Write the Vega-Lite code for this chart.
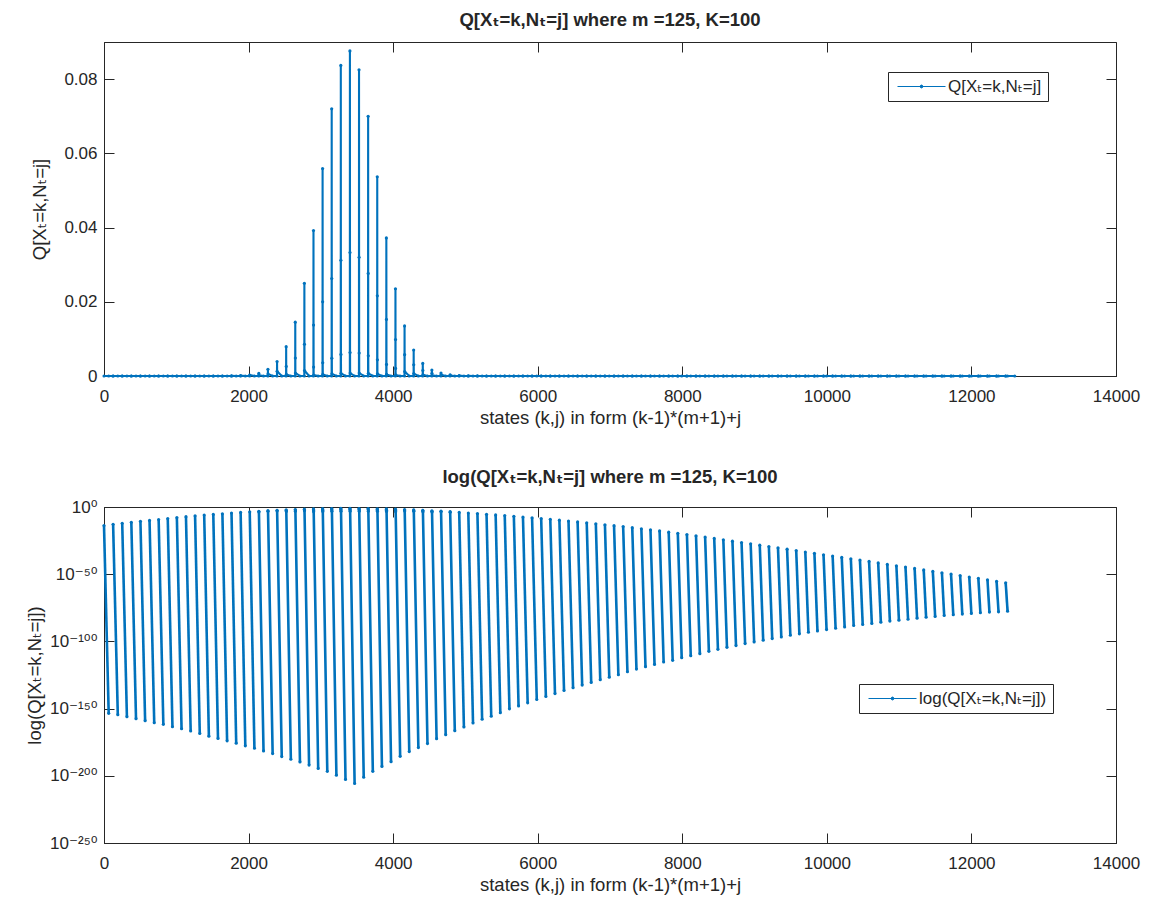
{
  "$schema": "https://vega.github.io/schema/vega-lite/v6.json",
  "background": "white",
  "padding": {"top": 10, "left": 25, "right": 10, "bottom": 5},
  "data": {
    "values": [
      {"k":1,"x":0,"q":1.58e-14},{"k":1,"x":65,"q":3.16e-154},{"k":1,"x":125,"q":0},
      {"k":2,"x":126,"q":1.26e-13},{"k":2,"x":191,"q":3.16e-155},{"k":2,"x":251,"q":0},
      {"k":3,"x":252,"q":7.94e-13},{"k":3,"x":317,"q":1e-156},{"k":3,"x":377,"q":0},
      {"k":4,"x":378,"q":3.98e-12},{"k":4,"x":443,"q":3.16e-158},{"k":4,"x":503,"q":0},
      {"k":5,"x":504,"q":2.51e-11},{"k":5,"x":569,"q":1e-159},{"k":5,"x":629,"q":0},
      {"k":6,"x":630,"q":1e-10},{"k":6,"x":695,"q":3.16e-161},{"k":6,"x":755,"q":0},
      {"k":7,"x":756,"q":5.01e-10},{"k":7,"x":821,"q":2e-162},{"k":7,"x":881,"q":0},
      {"k":8,"x":882,"q":2.51e-9},{"k":8,"x":947,"q":3.16e-164},{"k":8,"x":1007,"q":0},
      {"k":9,"x":1008,"q":1.26e-8},{"k":9,"x":1073,"q":1e-165},{"k":9,"x":1133,"q":0},
      {"k":10,"x":1134,"q":6.31e-8},{"k":10,"x":1199,"q":2e-167},{"k":10,"x":1259,"q":0},
      {"k":11,"x":1260,"q":2.51e-7},{"k":11,"x":1325,"q":3.16e-169},{"k":11,"x":1385,"q":0},
      {"k":12,"x":1386,"q":1e-6},{"k":12,"x":1451,"q":3.16e-171},{"k":12,"x":1511,"q":0},
      {"k":13,"x":1512,"q":3.16e-6},{"k":13,"x":1577,"q":6.31e-173},{"k":13,"x":1637,"q":0},
      {"k":14,"x":1638,"q":1e-5},{"k":14,"x":1703,"q":1e-174},{"k":14,"x":1763,"q":0},
      {"k":15,"x":1764,"q":3.16e-5},{"k":15,"x":1829,"q":2e-176},{"k":15,"x":1889,"q":0},
      {"k":16,"x":1890,"q":1e-4},{"k":16,"x":1955,"q":2e-178},{"k":16,"x":2015,"q":0},
      {"k":17,"x":2016,"q":2.8e-4},{"k":17,"x":2081,"q":3.16e-180},{"k":17,"x":2141,"q":0},
      {"k":18,"x":2142,"q":7e-4},{"k":18,"x":2143,"q":2.14e-4},{"k":18,"x":2207,"q":3.16e-182},{"k":18,"x":2267,"q":0},
      {"k":19,"x":2268,"q":0.0018},{"k":19,"x":2269,"q":5.63e-4},{"k":19,"x":2333,"q":3.16e-184},{"k":19,"x":2393,"q":0},
      {"k":20,"x":2394,"q":0.0039},{"k":20,"x":2395,"q":0.00125},{"k":20,"x":2459,"q":2e-186},{"k":20,"x":2519,"q":0},
      {"k":21,"x":2520,"q":0.0079},{"k":21,"x":2521,"q":0.00259},{"k":21,"x":2522,"q":4.24e-4},{"k":21,"x":2585,"q":2e-188},{"k":21,"x":2645,"q":0},
      {"k":22,"x":2646,"q":0.0145},{"k":22,"x":2647,"q":0.00486},{"k":22,"x":2648,"q":8.14e-4},{"k":22,"x":2711,"q":2e-190},{"k":22,"x":2771,"q":0},
      {"k":23,"x":2772,"q":0.025},{"k":23,"x":2773,"q":0.00856},{"k":23,"x":2774,"q":0.00147},{"k":23,"x":2837,"q":1e-192},{"k":23,"x":2897,"q":0},
      {"k":24,"x":2898,"q":0.0392},{"k":24,"x":2899,"q":0.01372},{"k":24,"x":2900,"q":0.0024},{"k":24,"x":2901,"q":2.8e-4},{"k":24,"x":2963,"q":3.16e-195},{"k":24,"x":3023,"q":0},
      {"k":25,"x":3024,"q":0.0559},{"k":25,"x":3025,"q":0.01998},{"k":25,"x":3026,"q":0.00357},{"k":25,"x":3027,"q":4.25e-4},{"k":25,"x":3089,"q":2e-197},{"k":25,"x":3149,"q":0},
      {"k":26,"x":3150,"q":0.072},{"k":26,"x":3151,"q":0.02628},{"k":26,"x":3152,"q":0.0048},{"k":26,"x":3153,"q":5.84e-4},{"k":26,"x":3215,"q":3.16e-200},{"k":26,"x":3275,"q":0},
      {"k":27,"x":3276,"q":0.0837},{"k":27,"x":3277,"q":0.03118},{"k":27,"x":3278,"q":0.00581},{"k":27,"x":3279,"q":7.22e-4},{"k":27,"x":3341,"q":2e-203},{"k":27,"x":3401,"q":0},
      {"k":28,"x":3402,"q":0.0876},{"k":28,"x":3403,"q":0.03329},{"k":28,"x":3404,"q":0.00632},{"k":28,"x":3405,"q":8.01e-4},{"k":28,"x":3467,"q":2e-206},{"k":28,"x":3527,"q":0},
      {"k":29,"x":3528,"q":0.0825},{"k":29,"x":3529,"q":0.03197},{"k":29,"x":3530,"q":0.00619},{"k":29,"x":3531,"q":8e-4},{"k":29,"x":3593,"q":1e-201},{"k":29,"x":3653,"q":0},
      {"k":30,"x":3654,"q":0.07},{"k":30,"x":3655,"q":0.02765},{"k":30,"x":3656,"q":0.00546},{"k":30,"x":3657,"q":7.19e-4},{"k":30,"x":3719,"q":2e-197},{"k":30,"x":3779,"q":0},
      {"k":31,"x":3780,"q":0.0537},{"k":31,"x":3781,"q":0.02161},{"k":31,"x":3782,"q":0.00435},{"k":31,"x":3783,"q":5.84e-4},{"k":31,"x":3845,"q":1e-193},{"k":31,"x":3905,"q":0},
      {"k":32,"x":3906,"q":0.0372},{"k":32,"x":3907,"q":0.01525},{"k":32,"x":3908,"q":0.00313},{"k":32,"x":3909,"q":4.28e-4},{"k":32,"x":3971,"q":3.16e-190},{"k":32,"x":4031,"q":0},
      {"k":33,"x":4032,"q":0.0235},{"k":33,"x":4033,"q":0.00981},{"k":33,"x":4034,"q":0.00205},{"k":33,"x":4035,"q":2.85e-4},{"k":33,"x":4097,"q":3.16e-186},{"k":33,"x":4157,"q":0},
      {"k":34,"x":4158,"q":0.0135},{"k":34,"x":4159,"q":0.00574},{"k":34,"x":4160,"q":0.00122},{"k":34,"x":4223,"q":1e-182},{"k":34,"x":4283,"q":0},
      {"k":35,"x":4284,"q":0.007},{"k":35,"x":4285,"q":0.00303},{"k":35,"x":4286,"q":6.55e-4},{"k":35,"x":4349,"q":1e-179},{"k":35,"x":4409,"q":0},
      {"k":36,"x":4410,"q":0.0034},{"k":36,"x":4411,"q":0.0015},{"k":36,"x":4412,"q":3.29e-4},{"k":36,"x":4475,"q":1e-176},{"k":36,"x":4535,"q":0},
      {"k":37,"x":4536,"q":0.0016},{"k":37,"x":4537,"q":7.16e-4},{"k":37,"x":4538,"q":1.6e-4},{"k":37,"x":4601,"q":3.98e-173},{"k":37,"x":4661,"q":0},
      {"k":38,"x":4662,"q":8e-4},{"k":38,"x":4663,"q":3.64e-4},{"k":38,"x":4727,"q":3.98e-170},{"k":38,"x":4787,"q":0},
      {"k":39,"x":4788,"q":3.2e-4},{"k":39,"x":4789,"q":1.48e-4},{"k":39,"x":4853,"q":3.98e-167},{"k":39,"x":4913,"q":0},
      {"k":40,"x":4914,"q":1e-4},{"k":40,"x":4979,"q":2e-164},{"k":40,"x":5039,"q":0},
      {"k":41,"x":5040,"q":3.16e-5},{"k":41,"x":5105,"q":2e-161},{"k":41,"x":5165,"q":0},
      {"k":42,"x":5166,"q":1.26e-5},{"k":42,"x":5231,"q":1.26e-158},{"k":42,"x":5291,"q":0},
      {"k":43,"x":5292,"q":3.98e-6},{"k":43,"x":5357,"q":2e-156},{"k":43,"x":5417,"q":0},
      {"k":44,"x":5418,"q":1.26e-6},{"k":44,"x":5483,"q":1e-153},{"k":44,"x":5543,"q":0},
      {"k":45,"x":5544,"q":3.98e-7},{"k":45,"x":5609,"q":6.31e-151},{"k":45,"x":5669,"q":0},
      {"k":46,"x":5670,"q":1.26e-7},{"k":46,"x":5735,"q":1e-148},{"k":46,"x":5795,"q":0},
      {"k":47,"x":5796,"q":3.16e-8},{"k":47,"x":5861,"q":2e-146},{"k":47,"x":5921,"q":0},
      {"k":48,"x":5922,"q":1e-8},{"k":48,"x":5987,"q":6.31e-144},{"k":48,"x":6047,"q":0},
      {"k":49,"x":6048,"q":2.51e-9},{"k":49,"x":6113,"q":1e-141},{"k":49,"x":6173,"q":0},
      {"k":50,"x":6174,"q":6.31e-10},{"k":50,"x":6239,"q":1.58e-139},{"k":50,"x":6299,"q":0},
      {"k":51,"x":6300,"q":1.58e-10},{"k":51,"x":6364,"q":3.16e-137},{"k":51,"x":6425,"q":0},
      {"k":52,"x":6426,"q":3.98e-11},{"k":52,"x":6489,"q":3.16e-135},{"k":52,"x":6551,"q":0},
      {"k":53,"x":6552,"q":7.94e-12},{"k":53,"x":6615,"q":3.16e-133},{"k":53,"x":6677,"q":0},
      {"k":54,"x":6678,"q":1.58e-12},{"k":54,"x":6740,"q":3.16e-131},{"k":54,"x":6803,"q":0},
      {"k":55,"x":6804,"q":3.16e-13},{"k":55,"x":6865,"q":3.16e-129},{"k":55,"x":6929,"q":0},
      {"k":56,"x":6930,"q":6.31e-14},{"k":56,"x":6990,"q":2.51e-127},{"k":56,"x":7055,"q":0},
      {"k":57,"x":7056,"q":1.26e-14},{"k":57,"x":7116,"q":1.58e-125},{"k":57,"x":7181,"q":0},
      {"k":58,"x":7182,"q":2.51e-15},{"k":58,"x":7241,"q":2.51e-123},{"k":58,"x":7307,"q":0},
      {"k":59,"x":7308,"q":3.98e-16},{"k":59,"x":7366,"q":2.51e-121},{"k":59,"x":7433,"q":0},
      {"k":60,"x":7434,"q":6.31e-17},{"k":60,"x":7491,"q":1.58e-119},{"k":60,"x":7559,"q":0},
      {"k":61,"x":7560,"q":1e-17},{"k":61,"x":7616,"q":7.94e-118},{"k":61,"x":7685,"q":0},
      {"k":62,"x":7686,"q":1.58e-18},{"k":62,"x":7742,"q":5.01e-116},{"k":62,"x":7811,"q":0},
      {"k":63,"x":7812,"q":2e-19},{"k":63,"x":7867,"q":7.94e-115},{"k":63,"x":7937,"q":0},
      {"k":64,"x":7938,"q":2.51e-20},{"k":64,"x":7992,"q":7.94e-113},{"k":64,"x":8063,"q":0},
      {"k":65,"x":8064,"q":3.16e-21},{"k":65,"x":8117,"q":2.51e-111},{"k":65,"x":8189,"q":0},
      {"k":66,"x":8190,"q":3.98e-22},{"k":66,"x":8243,"q":7.94e-110},{"k":66,"x":8315,"q":0},
      {"k":67,"x":8316,"q":3.98e-23},{"k":67,"x":8368,"q":3.98e-108},{"k":67,"x":8441,"q":0},
      {"k":68,"x":8442,"q":3.98e-24},{"k":68,"x":8493,"q":1.26e-106},{"k":68,"x":8567,"q":0},
      {"k":69,"x":8568,"q":3.98e-25},{"k":69,"x":8618,"q":3.98e-105},{"k":69,"x":8693,"q":0},
      {"k":70,"x":8694,"q":3.98e-26},{"k":70,"x":8743,"q":7.94e-104},{"k":70,"x":8819,"q":0},
      {"k":71,"x":8820,"q":3.98e-27},{"k":71,"x":8869,"q":2.51e-102},{"k":71,"x":8945,"q":0},
      {"k":72,"x":8946,"q":3.98e-28},{"k":72,"x":8994,"q":3.98e-101},{"k":72,"x":9071,"q":0},
      {"k":73,"x":9072,"q":3.98e-29},{"k":73,"x":9119,"q":7.94e-100},{"k":73,"x":9197,"q":0},
      {"k":74,"x":9198,"q":3.98e-30},{"k":74,"x":9244,"q":1.26e-98},{"k":74,"x":9323,"q":0},
      {"k":75,"x":9324,"q":3.98e-31},{"k":75,"x":9370,"q":2e-97},{"k":75,"x":9449,"q":0},
      {"k":76,"x":9450,"q":3.98e-32},{"k":76,"x":9495,"q":3.98e-96},{"k":76,"x":9575,"q":0},
      {"k":77,"x":9576,"q":3.98e-33},{"k":77,"x":9620,"q":3.98e-95},{"k":77,"x":9701,"q":0},
      {"k":78,"x":9702,"q":3.16e-34},{"k":78,"x":9745,"q":6.31e-94},{"k":78,"x":9827,"q":0},
      {"k":79,"x":9828,"q":3.16e-35},{"k":79,"x":9870,"q":6.31e-93},{"k":79,"x":9953,"q":0},
      {"k":80,"x":9954,"q":3.16e-36},{"k":80,"x":9996,"q":6.31e-92},{"k":80,"x":10079,"q":0},
      {"k":81,"x":10080,"q":3.16e-37},{"k":81,"x":10121,"q":6.31e-91},{"k":81,"x":10205,"q":0},
      {"k":82,"x":10206,"q":3.16e-38},{"k":82,"x":10246,"q":6.31e-90},{"k":82,"x":10331,"q":0},
      {"k":83,"x":10332,"q":3.16e-39},{"k":83,"x":10371,"q":6.31e-89},{"k":83,"x":10457,"q":0},
      {"k":84,"x":10458,"q":3.16e-40},{"k":84,"x":10496,"q":3.98e-88},{"k":84,"x":10583,"q":0},
      {"k":85,"x":10584,"q":3.16e-41},{"k":85,"x":10622,"q":2e-87},{"k":85,"x":10709,"q":0},
      {"k":86,"x":10710,"q":2.51e-42},{"k":86,"x":10747,"q":2e-86},{"k":86,"x":10835,"q":0},
      {"k":87,"x":10836,"q":2e-43},{"k":87,"x":10872,"q":1.26e-85},{"k":87,"x":10961,"q":0},
      {"k":88,"x":10962,"q":2e-44},{"k":88,"x":10997,"q":6.31e-85},{"k":88,"x":11087,"q":0},
      {"k":89,"x":11088,"q":2e-45},{"k":89,"x":11123,"q":3.16e-84},{"k":89,"x":11213,"q":0},
      {"k":90,"x":11214,"q":2e-46},{"k":90,"x":11248,"q":2e-83},{"k":90,"x":11339,"q":0},
      {"k":91,"x":11340,"q":1.58e-47},{"k":91,"x":11373,"q":1e-82},{"k":91,"x":11465,"q":0},
      {"k":92,"x":11466,"q":1.26e-48},{"k":92,"x":11498,"q":3.16e-82},{"k":92,"x":11591,"q":0},
      {"k":93,"x":11592,"q":1.26e-49},{"k":93,"x":11623,"q":2e-81},{"k":93,"x":11717,"q":0},
      {"k":94,"x":11718,"q":1.26e-50},{"k":94,"x":11749,"q":6.31e-81},{"k":94,"x":11843,"q":0},
      {"k":95,"x":11844,"q":1e-51},{"k":95,"x":11874,"q":2e-80},{"k":95,"x":11969,"q":0},
      {"k":96,"x":11970,"q":7.94e-53},{"k":96,"x":11999,"q":6.31e-80},{"k":96,"x":12095,"q":0},
      {"k":97,"x":12096,"q":7.94e-54},{"k":97,"x":12124,"q":2e-79},{"k":97,"x":12221,"q":0},
      {"k":98,"x":12222,"q":6.31e-55},{"k":98,"x":12249,"q":6.31e-79},{"k":98,"x":12347,"q":0},
      {"k":99,"x":12348,"q":5.01e-56},{"k":99,"x":12375,"q":1e-78},{"k":99,"x":12473,"q":0},
      {"k":100,"x":12474,"q":3.98e-57},{"k":100,"x":12500,"q":3.16e-78},{"k":100,"x":12599,"q":0}
    ]
  },
  "spacing": 40,
  "resolve": {
    "scale": {"x": "independent", "y": "independent", "color": "independent"},
    "legend": {"color": "independent"}
  },
  "vconcat": [
    {
      "width": 1012,
      "height": 334,
      "title": {"text": "Q[Xₜ=k,Nₜ=j] where m =125, K=100"},
      "resolve": {"axis": {"x": "independent", "y": "independent"}},
      "layer": [
        {
          "mark": {"type": "line", "strokeWidth": 2.1},
          "encoding": {
            "x": {
              "field": "x",
              "type": "quantitative",
              "scale": {"domain": [0, 14000], "nice": false, "zero": false},
              "axis": {
                "values": [0, 2000, 4000, 6000, 8000, 10000, 12000, 14000],
                "format": "d",
                "title": "states (k,j) in form (k-1)*(m+1)+j"
              }
            },
            "y": {
              "field": "q",
              "type": "quantitative",
              "scale": {"domain": [0, 0.09], "nice": false},
              "axis": {
                "values": [0, 0.02, 0.04, 0.06, 0.08],
                "format": ".2~f",
                "titlePadding": 14,
                "title": "Q[Xₜ=k,Nₜ=j]"
              }
            },
            "color": {
              "datum": "Q[Xₜ=k,Nₜ=j]",
              "type": "nominal",
              "scale": {"range": ["#0072BD"]},
              "legend": {"orient": "none", "legendX": 784, "legendY": 30}
            }
          }
        },
        {
          "mark": {"type": "point", "filled": true, "size": 10, "opacity": 1, "color": "#0072BD"},
          "encoding": {
            "x": {
              "field": "x",
              "type": "quantitative",
              "axis": {"orient": "top", "labels": false, "title": null, "domain": false, "values": [0, 2000, 4000, 6000, 8000, 10000, 12000, 14000]}
            },
            "y": {
              "field": "q",
              "type": "quantitative",
              "axis": {"orient": "right", "labels": false, "title": null, "domain": false, "values": [0, 0.02, 0.04, 0.06, 0.08]}
            }
          }
        }
      ]
    },
    {
      "width": 1012,
      "height": 336,
      "title": {"text": "log(Q[Xₜ=k,Nₜ=j] where m =125, K=100"},
      "transform": [{"filter": "datum.q > 0"}],
      "resolve": {"axis": {"x": "independent", "y": "independent"}},
      "layer": [
        {
          "mark": {"type": "line", "strokeWidth": 2.6},
          "encoding": {
            "x": {
              "field": "x",
              "type": "quantitative",
              "scale": {"domain": [0, 14000], "nice": false, "zero": false},
              "axis": {
                "values": [0, 2000, 4000, 6000, 8000, 10000, 12000, 14000],
                "format": "d",
                "title": "states (k,j) in form (k-1)*(m+1)+j"
              }
            },
            "y": {
              "field": "q",
              "type": "quantitative",
              "scale": {"type": "log", "domain": [1e-250, 1], "nice": false},
              "axis": {
                "values": [1e-250, 1e-200, 1e-150, 1e-100, 1e-50, 1],
                "labelExpr": "datum.value > 0.5 ? '10⁰' : datum.value > 1e-75 ? '10⁻⁵⁰' : datum.value > 1e-125 ? '10⁻¹⁰⁰' : datum.value > 1e-175 ? '10⁻¹⁵⁰' : datum.value > 1e-225 ? '10⁻²⁰⁰' : '10⁻²⁵⁰'",
                "titlePadding": 5,
                "title": "log(Q[Xₜ=k,Nₜ=j])"
              }
            },
            "detail": {"field": "k", "type": "nominal"},
            "color": {
              "datum": "log(Q[Xₜ=k,Nₜ=j])",
              "type": "nominal",
              "scale": {"range": ["#0072BD"]},
              "legend": {"orient": "none", "legendX": 755, "legendY": 177}
            }
          }
        },
        {
          "mark": {"type": "point", "filled": true, "size": 10, "opacity": 1, "color": "#0072BD"},
          "encoding": {
            "x": {
              "field": "x",
              "type": "quantitative",
              "axis": {"orient": "top", "labels": false, "title": null, "domain": false, "values": [0, 2000, 4000, 6000, 8000, 10000, 12000, 14000]}
            },
            "y": {
              "field": "q",
              "type": "quantitative",
              "axis": {"orient": "right", "labels": false, "title": null, "domain": false, "values": [1e-250, 1e-200, 1e-150, 1e-100, 1e-50, 1]}
            }
          }
        }
      ]
    }
  ],
  "config": {
    "font": "Liberation Sans, DejaVu Sans, sans-serif",
    "view": {"stroke": "#262626", "strokeWidth": 1},
    "axis": {
      "grid": false,
      "domainColor": "#262626",
      "tickColor": "#262626",
      "labelColor": "#262626",
      "titleColor": "#262626",
      "labelFontSize": 17,
      "titleFontSize": 18.5,
      "titleFontWeight": "normal",
      "tickSize": -10,
      "labelPadding": 22,
      "labelFlush": false,
      "labelOverlap": false
    },
    "axisY": {"labelPadding": 17},
    "title": {"fontSize": 18.5, "fontWeight": "bold", "color": "#262626", "frame": "group", "anchor": "middle", "offset": 12},
    "legend": {
      "title": null,
      "labelFontSize": 17,
      "labelColor": "#262626",
      "strokeColor": "#262626",
      "fillColor": "white",
      "padding": 6,
      "symbolType": "M-3,0H3M-0.18,0A0.18,0.18,0,1,1,0.18,0A0.18,0.18,0,1,1,-0.18,0Z",
      "symbolSize": 256,
      "symbolOffset": 19,
      "labelOffset": 18,
      "symbolStrokeWidth": 1,
      "symbolFillColor": "#0072BD",
      "symbolStrokeColor": "#0072BD"
    }
  }
}
